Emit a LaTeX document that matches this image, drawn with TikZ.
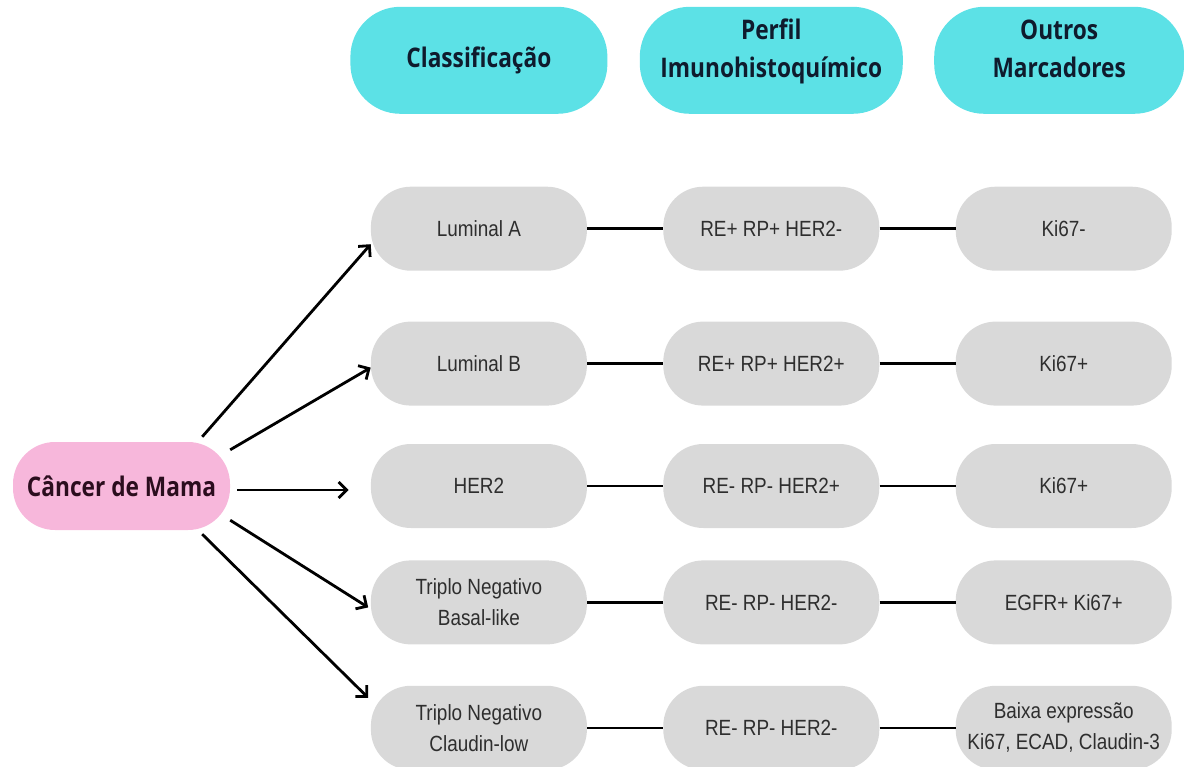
\documentclass[tikz,border=0pt]{standalone}
\usepackage{fontspec}
\setmainfont{Liberation Sans}
\newfontfamily\headfont{Open Sans}[FakeStretch=0.84]
\newfontfamily\cellfont{Liberation Sans}[FakeStretch=0.86]
\usetikzlibrary{arrows.meta,positioning}
\definecolor{headcyan}{HTML}{5CE1E6}
\definecolor{mamapink}{HTML}{F7B7DB}
\definecolor{cellgray}{HTML}{D9D9D9}
\definecolor{headtext}{HTML}{0F1B2D}
\definecolor{mamatext}{HTML}{2B0D1E}
\tikzset{
  head/.style={fill=headcyan,rounded corners=50pt,minimum height=107pt,
    align=center,text=headtext,
    font=\headfont\bfseries\fontsize{27}{38}\selectfont},
  twohead/.style={head,text depth=24pt},
  mama/.style={fill=mamapink,rounded corners=42pt,minimum width=217pt,
    minimum height=88pt,text=mamatext,
    font=\headfont\bfseries\fontsize{27}{30}\selectfont},
  cell/.style={fill=cellgray,rounded corners=40pt,minimum width=216pt,
    minimum height=84pt,align=center,text=black!82,
    font=\cellfont\fontsize{22}{31}\selectfont},
  link/.style={line width=2.6pt},
  arr/.style={line width=2.8pt,-{Straight Barb[length=8pt,width=16pt]}}
}
\begin{document}
\begin{tikzpicture}[x=1pt,y=1pt]
      \useasboundingbox (0,0) rectangle (1184,-767);
      \node [mama] (mama) at (121.5,-486) {Câncer de Mama};
      % classificacao
      \node [cell,right=140.5pt of mama] (her2) {HER2};
      \node [cell,above=38pt of her2] (lumb) {Luminal B};
      \node [cell,above=50.5pt of lumb] (luma) {Luminal A};
      \node [cell,below=32pt of her2] (basal) {Triplo Negativo\\Basal-like};
      \node [cell,below=41pt of basal] (claudin)
      {Triplo Negativo\\Claudin-low};
      % perfil imunohistoquimico
      \node [cell,right=76pt of luma] (ihqa) {RE+ RP+ HER2-};
      \node [cell,right=76pt of lumb] (ihqb) {RE+ RP+ HER2+};
      \node [cell,right=76pt of her2] (ihqher) {RE- RP- HER2+};
      \node [cell,right=76pt of basal] (ihqbasal) {RE- RP- HER2-};
      \node [cell,right=76pt of claudin] (ihqclaudin) {RE- RP- HER2-};
      % outros marcadores
      \node [cell,right=76pt of ihqa] (kia) {Ki67-};
      \node [cell,right=76pt of ihqb] (kib) {Ki67+};
      \node [cell,right=76pt of ihqher] (kiher) {Ki67+};
      \node [cell,right=76pt of ihqbasal] (egfr) {EGFR+ Ki67+};
      \node [cell,right=76pt of ihqclaudin] (baixa)
      {Baixa expressão\\Ki67, ECAD, Claudin-3};
      % cabecalhos
      \node [head,minimum width=257pt,above=72.5pt of luma] (classif)
      {Classificação};
      \node [twohead,minimum width=263pt,above=72.5pt of ihqa] (perfil)
      {Perfil\\Imunohistoquímico};
      \node [twohead,minimum width=250pt,above=72.5pt of kia,xshift=-4.5pt]
      (outros) {Outros\\Marcadores};
      % setas
      \draw[arr] ([xshift=-28pt,yshift=5pt]mama.north east) to
      ([yshift=-15.5pt]luma.west);
      \draw[arr] ([yshift=-8pt]mama.north east) to ([yshift=-4pt]lumb.west);
      \draw[arr] ([xshift=7pt,yshift=-4pt]mama.east) to
      ([xshift=-22pt,yshift=-4pt]her2.west);
      \draw[arr] ([yshift=10pt]mama.south east) to
      ([xshift=-2.5pt,yshift=-5pt]basal.west);
      \draw[arr] ([xshift=-28pt,yshift=-4pt]mama.south east) to
      ([xshift=-2.5pt,yshift=30pt]claudin.west);
      % ligacoes
      \draw[link] (luma) to (ihqa);
      \draw[link] (ihqa) to (kia);
      \draw[link] (lumb) to (ihqb);
      \draw[link] (ihqb) to (kib);
      \draw[link] (her2) to (ihqher);
      \draw[link] (ihqher) to (kiher);
      \draw[link] (basal) to (ihqbasal);
      \draw[link] (ihqbasal) to (egfr);
      \draw[link] (claudin) to (ihqclaudin);
      \draw[link] (ihqclaudin) to (baixa);
\end{tikzpicture}
\end{document}
